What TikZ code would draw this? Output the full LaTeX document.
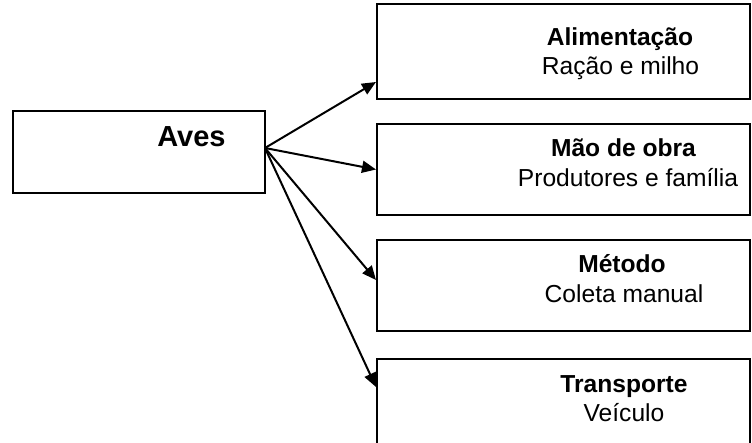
\documentclass[tikz,border=0pt]{standalone}
\usepackage{fontspec}
\setmainfont{Liberation Sans}
\usetikzlibrary{arrows.meta, positioning}

\begin{document}
\begin{tikzpicture}[x=0.5pt, y=-0.5pt,
    box/.style={draw, line width=1pt, minimum width=186.5pt, minimum height=45.5pt, inner sep=0pt},
    head/.style={anchor=base, font=\fontsize{12.3}{14}\selectfont\bfseries},
    sub/.style={anchor=base, font=\fontsize{12.3}{14}\selectfont},
    link/.style={-{Triangle[length=7pt, width=6pt]}, line width=1pt}]
    \useasboundingbox (0,0) rectangle (752,443);
    \clip (0,0) rectangle (752,443);
    % Source box
    \node[box, minimum width=126pt, minimum height=41pt] (aves) at (139,152) {};
    \node[anchor=base, font=\fontsize{14.5}{17}\selectfont\bfseries] (avestxt) at (191.5,147) {Aves};
    % Category boxes
    \node[box, minimum height=47.5pt] (alim) at (563.5,51.5) {};
    \node[box] (obra) at (563.5,169.5) {};
    \node[box] (metodo) at (563.5,285.5) {};
    \node[box] (transp) at (563.5,404.5) {};
    \node[head] (alimtit) at (620,46) {Alimentação};
    \node[sub] (alimsub) at (620.5,75) {Ração e milho};
    \node[head] (obratit) at (623.5,157) {Mão de obra};
    \node[sub] (obrasub) at (628,187) {Produtores e família};
    \node[head] (metodotit) at (622,273) {Método};
    \node[sub] (metodosub) at (624,303) {Coleta manual};
    \node[head] (transptit) at (624,393) {Transporte};
    \node[sub] (transpsub) at (624,422) {Veículo};
    % Arrows
    \coordinate (src) at (265,148);
    \draw[link] (src) -- ([yshift=-15.25pt]alim.west);
    \draw[link] (src) -- (obra.west);
    \draw[link] (src) -- ([yshift=2.75pt]metodo.west);
    \draw[link] (src) -- ([yshift=8.75pt]transp.west);
\end{tikzpicture}
\end{document}
